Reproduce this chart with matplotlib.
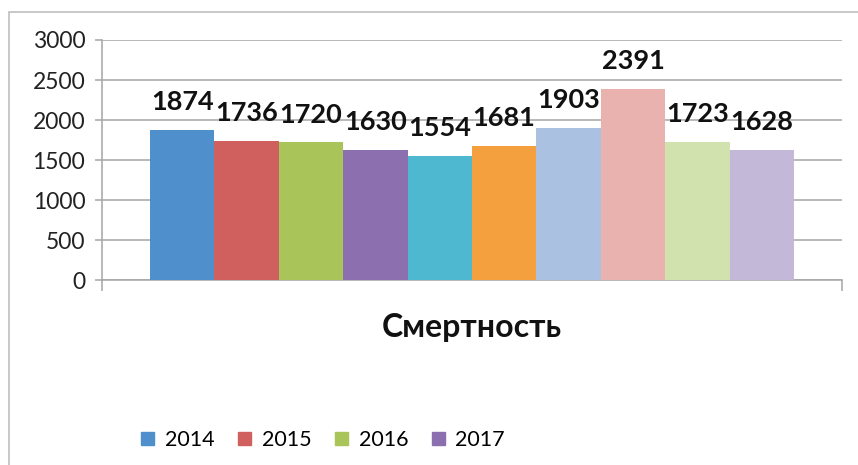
import matplotlib
matplotlib.use("Agg")
import matplotlib.pyplot as plt
import matplotlib.patches as mpatches

plt.rcParams['font.family'] = ['Lato', 'DejaVu Sans']

values = [1874, 1736, 1720, 1630, 1554, 1681, 1903, 2391, 1723, 1628]
colors = ['#4F8FCB', '#CF605E', '#A9C458', '#8C6FAE', '#4DB8D0',
          '#F5A03F', '#ABC1E1', '#EAB2AE', '#D2E2AF', '#C3B8D8']
legend_labels = ['2014', '2015', '2016', '2017']
title = 'Смертность'
yticks = [0, 500, 1000, 1500, 2000, 2500, 3000]

grey = '#A6A6A6'

fig = plt.figure(figsize=(8.58, 4.65), dpi=100)
# outer chart frame (runs off the right and bottom edge)
fig.patches.append(mpatches.Rectangle((9/858, -0.1), 1.1, 1 - 12/465 + 0.1,
                                      transform=fig.transFigure, fill=False,
                                      edgecolor='#BFBFBF', lw=1.2))

ax = fig.add_axes([102/858, 1 - 280/465, 740/858, 240/465])
xs = list(range(len(values)))
ax.bar(xs, values, width=1.0, color=colors, zorder=3)
ax.set_xlim(-1.245, 10.245)
ax.set_ylim(0, 3000)
ax.set_yticks(yticks)
ax.yaxis.grid(True, color=grey, lw=1.1, zorder=0)
for s in ['top', 'right']:
    ax.spines[s].set_visible(False)
for s in ['left', 'bottom']:
    ax.spines[s].set_color(grey)
    ax.spines[s].set_linewidth(1.1)
ax.set_xticks([-1.245, 10.245])
ax.set_xticklabels(['', ''])
ax.tick_params(axis='x', length=8, width=1.1, color=grey)
ax.tick_params(axis='y', length=5, width=1.1, color=grey, labelsize=16.5,
               labelcolor='#222222', pad=7)

for x, v in zip(xs, values):
    ax.annotate(str(v), (x, v), xytext=(0, 20), textcoords='offset points',
                ha='center', va='center', fontsize=19.5, fontweight='bold',
                color='#111111')

fig.text(472/858, 1 - 328/465, title, ha='center', va='center',
         fontsize=23, fontweight='bold', color='#111111')

handles = [mpatches.Patch(color=c, label=l) for c, l in zip(colors[:4], legend_labels)]
fig.legend(handles=handles, loc='center', bbox_to_anchor=(323/858, 1 - 440/465),
           ncol=4, frameon=False, fontsize=15.5, handlelength=0.6, handleheight=0.6,
           handletextpad=0.5, columnspacing=1.1)

fig.savefig('out.png', dpi=100)
